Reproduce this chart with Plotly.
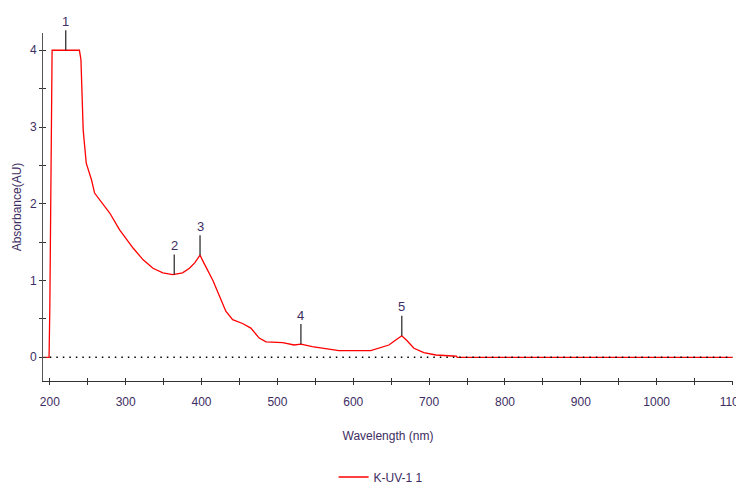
import plotly.graph_objects as go

# Spectrum data (wavelength nm, absorbance AU)
wavelength = [191, 199, 200, 201, 202, 203, 220, 239, 241, 243, 244, 248, 255, 259, 266,
              279, 292, 310, 323, 336, 349, 362, 375, 384, 391, 398, 402, 406, 415, 424,
              432, 441, 454, 465, 476, 485, 507, 522, 531, 546, 564, 581, 623, 634, 647,
              656, 664, 671, 680, 693, 709, 731, 736, 737, 1100]
absorbance = [0, 0, 0.66, 2.0, 3.85, 4.0, 4.0, 4.0, 3.88, 3.27, 2.96, 2.53, 2.31, 2.14, 2.05,
              1.88, 1.66, 1.42, 1.27, 1.16, 1.10, 1.078, 1.10, 1.16, 1.23, 1.33, 1.25, 1.17, 1.0, 0.79,
              0.60, 0.49, 0.44, 0.38, 0.25, 0.20, 0.19, 0.16, 0.172, 0.138, 0.117, 0.088, 0.086, 0.117, 0.16,
              0.225, 0.28, 0.216, 0.117, 0.06, 0.03, 0.017, 0.015, 0.0, 0.0]

# Baseline (dotted zero line)
baseline_wl = [200, 1100]
baseline_abs = [0, 0]

# Peak picks
peak_wl = [221, 364, 398, 531, 664]
peak_abs = [4.0, 1.078, 1.33, 0.172, 0.28]
peak_labels = ["1", "2", "3", "4", "5"]

x_ticks = [200, 300, 400, 500, 600, 700, 800, 900, 1000, 1100]
y_ticks = [0, 1, 2, 3, 4]

series_name = "K-UV-1 1"

FONT = "Liberation Sans, Arial, sans-serif"
LABEL_COLOR = "#3d2d62"
AXIS_COLOR = "#333333"
X_RANGE = [191, 1100.6]
Y_RANGE = [-0.309, 4.225]

fig = go.Figure()
fig.add_trace(go.Scatter(x=wavelength, y=absorbance, mode="lines", name=series_name,
                         line=dict(color="#ff0000", width=1.3)))
fig.add_trace(go.Scatter(x=baseline_wl, y=baseline_abs, mode="lines", showlegend=False,
                         hoverinfo="skip",
                         line=dict(color="#000000", width=1.5, dash="1.5px,5px")))
# invisible trace to instantiate the inner-tick overlay axes
fig.add_trace(go.Scatter(x=[X_RANGE[0]], y=[Y_RANGE[0]], xaxis="x2", yaxis="y2",
                         mode="markers", marker=dict(opacity=0), showlegend=False,
                         hoverinfo="skip"))

for wl, ab, lab in zip(peak_wl, peak_abs, peak_labels):
    fig.add_annotation(x=wl, y=ab, text=lab, showarrow=True, arrowhead=0,
                       arrowwidth=1.2, arrowcolor="#222222", ax=0, ay=-29,
                       standoff=0, font=dict(family=FONT, size=13, color=LABEL_COLOR))

fig.update_layout(
    width=736, height=477,
    margin=dict(l=35, r=11, t=25, b=104, autoexpand=False),
    paper_bgcolor="white", plot_bgcolor="white",
    font=dict(family=FONT, size=12, color=LABEL_COLOR),
    showlegend=True,
    legend=dict(orientation="h", x=0.49, xanchor="center", yref="container",
                y=0.0168, yanchor="middle",
                font=dict(family=FONT, size=12, color=LABEL_COLOR)),
    xaxis=dict(range=X_RANGE, tickvals=x_ticks, ticks="outside", ticklen=3, tickwidth=1,
               tickcolor=AXIS_COLOR, showline=True, linecolor=AXIS_COLOR, linewidth=1,
               showgrid=False, zeroline=False, automargin=False,
               ticklabeloverflow="allow", ticklabelstandoff=7,
               minor=dict(dtick=50, tick0=200, ticks="outside", ticklen=3, tickcolor=AXIS_COLOR),
               title=dict(text="Wavelength (nm)", standoff=23,
                          font=dict(family=FONT, size=12, color=LABEL_COLOR)),
               tickfont=dict(family=FONT, size=12, color=LABEL_COLOR)),
    yaxis=dict(range=Y_RANGE, tickvals=y_ticks, ticks="outside", ticklen=3, tickwidth=1,
               tickcolor=AXIS_COLOR, showline=True, linecolor="#555555", linewidth=1,
               showgrid=False, zeroline=False, automargin=False,
               minor=dict(dtick=0.5, tick0=0, ticks="outside", ticklen=3, tickcolor=AXIS_COLOR),
               title=dict(text="Absorbance(AU)", standoff=5,
                          font=dict(family=FONT, size=12, color=LABEL_COLOR)),
               tickfont=dict(family=FONT, size=12, color=LABEL_COLOR)),
    xaxis2=dict(range=X_RANGE, overlaying="x", side="bottom", anchor="y2", automargin=False,
                tickvals=x_ticks, ticks="inside", ticklen=3, tickcolor=AXIS_COLOR,
                showticklabels=False, showline=False, showgrid=False, zeroline=False,
                minor=dict(dtick=50, tick0=200, ticks="inside", ticklen=3, tickcolor=AXIS_COLOR)),
    yaxis2=dict(range=Y_RANGE, overlaying="y", side="left", anchor="x2", automargin=False,
                tickvals=y_ticks, ticks="inside", ticklen=3, tickcolor=AXIS_COLOR,
                showticklabels=False, showline=False, showgrid=False, zeroline=False,
                minor=dict(dtick=0.5, tick0=0, ticks="inside", ticklen=3, tickcolor=AXIS_COLOR)),
)

fig.write_html("out.html")
